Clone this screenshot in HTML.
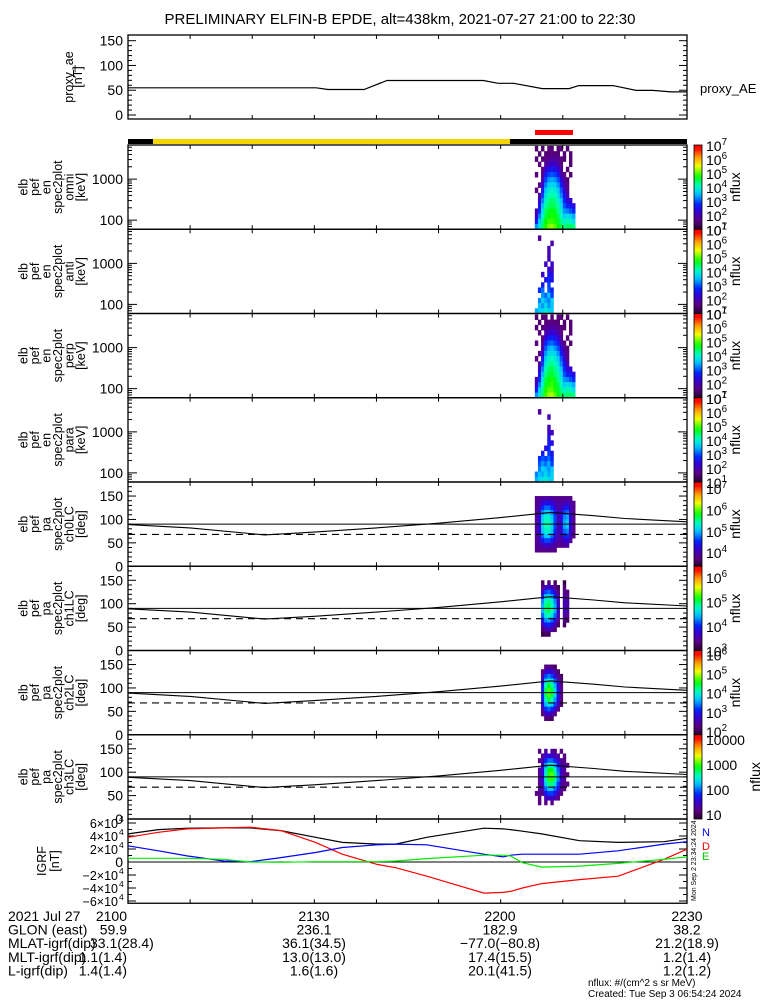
<!DOCTYPE html>
<html><head><meta charset="utf-8"><style>
body{margin:0;background:#fff;}
svg{display:block;font-family:"Liberation Sans",sans-serif;}
</style></head><body>
<svg id="chart" xmlns="http://www.w3.org/2000/svg" width="775" height="1000" viewBox="0 0 775 1000">
<rect x="0" y="0" width="775" height="1000" fill="#fff"/>
<text x="400" y="24" text-anchor="middle" font-size="15">PRELIMINARY ELFIN-B EPDE, alt=438km, 2021-07-27 21:00 to 22:30</text>
<g id="g"></g>
</svg>
<script>
// ---------- data ----------
const timeTicks = [0,10,20,30,40,50,60,70,80,90];
const timeLabels = ["2100","2130","2200","2230"];
const proxyTime = [0,30.3,32.2,38,41.7,57.2,59.6,62.1,66.7,71,72.6,78.1,81.8,84.5,87.4,90];
const proxyAE = [55,55,51.4,51.4,69.6,69.6,64,64,53.2,53.2,59.3,59.3,49.6,49.6,46.6,46.6];
const specTimeStart = 65.5;
const specTimeStep = 0.5;
const energyEdges = [6440,4808,3590,2680,2001,1494,1116,833,622,464,347,259,193,144,107.7,80.4,60];
const paEdges = [150,140,130,120,110,100,90,80,70,60,50,40,30];
const fluxOmni = [
[1.5,0,1.5,0,1.6,1.5,0,1.5,1.6,0,1.5,0,0],
[0,1.5,0,1.5,1.5,1.6,1.5,1.5,0,1.5,0,1.5,0],
[1.5,0,1.5,1.6,1.8,1.8,1.8,1.7,1.6,1.5,0,1.5,0],
[0,1.6,0,1.8,2.0,2.2,2.2,1.9,1.6,0,0,1.5,0],
[0,0,1.6,2.2,2.5,2.6,2.5,2.3,1.8,0,1.5,0,0],
[1.6,0,1.8,2.6,2.9,3.0,2.9,2.6,2.0,1.6,0,1.5,0],
[0,0,2.0,2.9,3.3,3.4,3.3,3.0,2.4,1.8,1.5,0,0],
[0,1.6,2.3,3.2,3.6,3.7,3.6,3.3,2.7,2.0,1.6,0,0],
[1.6,0,2.6,3.5,3.9,4.0,3.9,3.6,3.0,2.3,1.7,0,0],
[0,1.8,2.9,3.8,4.1,4.2,4.1,3.8,3.2,2.6,2.0,0,0],
[0,2.2,3.2,4.0,4.3,4.4,4.3,4.0,3.5,2.8,2.3,2.2,0],
[0,2.5,3.5,4.2,4.4,4.5,4.4,4.2,3.7,3.0,2.7,2.6,2.4],
[2.0,2.8,3.8,4.4,4.6,4.7,4.6,4.3,3.9,3.3,3.2,3.0,2.8],
[2.2,3.2,4.0,4.5,4.7,4.8,4.7,4.5,4.1,3.6,3.8,3.6,3.4],
[2.6,3.6,4.3,4.7,4.9,4.9,4.8,4.6,4.3,4.0,4.2,4.0,3.8],
[3.3,3.8,4.4,4.8,5.1,5.2,5.0,4.7,4.5,4.3,4.4,4.4,4.3]];
const fluxAnti = [
[0,0,0,0,0,0,0,0,0,0,0,0,0],
[0,1.8,0,0,0,0,0,0,0,0,0,0,0],
[0,0,0,0,0,1.9,0,0,0,0,0,0,0],
[0,0,0,0,2.0,0,0,0,0,0,0,0,0],
[0,0,0,0,2.0,0,0,0,0,0,0,0,0],
[0,0,0,0,2.0,0,0,0,0,0,0,0,0],
[0,0,0,2.1,0,2.2,0,0,0,0,0,0,0],
[0,0,0,0,2.3,2.0,0,0,0,0,0,0,0],
[0,0,2.2,0,2.6,2.4,0,0,0,0,0,0,0],
[0,0,0,2.5,2.8,2.5,0,0,0,0,0,0,0],
[0,0,2.6,0,2.9,0,0,0,0,0,0,0,0],
[0,2.8,3.1,0,3.0,2.7,0,0,0,0,0,0,0],
[0,0,3.3,3.1,3.5,2.9,0,0,0,0,0,0,0],
[0,3.2,3.6,3.4,3.2,3.6,0,0,0,0,0,0,0],
[0,3.5,3.3,3.7,3.3,3.5,0,0,0,0,0,0,0],
[3.4,3.6,3.7,3.9,3.7,3.6,0,0,0,0,0,0,0]];
const fluxPerp = [
[1.5,0,1.5,1.5,0,1.5,0,1.5,1.6,0,1.5,0,0],
[0,1.5,0,1.5,1.6,1.6,1.5,1.5,0,1.5,0,1.5,0],
[1.5,0,1.5,1.7,1.8,1.9,1.8,1.7,1.6,1.5,0,1.5,0],
[0,1.6,0,1.9,2.1,2.3,2.2,1.9,1.6,0,0,1.5,0],
[0,0,1.6,2.3,2.6,2.7,2.5,2.3,1.8,0,1.5,0,0],
[1.6,0,1.8,2.7,3.0,3.1,2.9,2.6,2.0,1.6,0,1.5,0],
[0,0,2.0,3.0,3.4,3.5,3.3,3.0,2.4,1.8,1.5,0,0],
[0,1.6,2.3,3.3,3.7,3.8,3.6,3.3,2.7,2.0,1.6,0,0],
[1.6,0,2.6,3.6,4.0,4.1,3.9,3.6,3.0,2.3,1.7,0,0],
[0,1.8,2.9,3.9,4.2,4.3,4.1,3.8,3.2,2.6,2.0,0,0],
[0,2.2,3.2,4.1,4.4,4.5,4.3,4.0,3.5,2.8,2.3,2.2,0],
[0,2.5,3.5,4.3,4.5,4.6,4.4,4.2,3.7,3.0,2.7,2.6,2.4],
[2.0,2.8,3.8,4.5,4.7,4.8,4.6,4.3,3.9,3.3,3.2,3.0,2.8],
[2.2,3.2,4.0,4.6,4.8,4.9,4.7,4.5,4.1,3.6,3.8,3.6,3.4],
[2.6,3.6,4.3,4.8,5.0,5.0,4.8,4.6,4.3,4.0,4.2,4.0,3.8],
[3.3,3.8,4.4,4.9,5.2,5.3,5.0,4.7,4.5,4.3,4.4,4.4,4.3]];
const fluxPara = [
[0,0,0,0,0,0,0,0,0,0,0,0,0],
[0,0,0,0,0,0,0,0,0,0,0,0,0],
[0,1.8,0,0,0,0,0,0,0,0,0,0,0],
[0,0,0,0,2.0,0,0,0,0,0,0,0,0],
[0,0,0,0,0,0,0,0,0,0,0,0,0],
[0,0,0,0,2.0,0,0,0,0,0,0,0,0],
[0,0,0,0,2.2,2.1,0,0,0,0,0,0,0],
[0,0,0,0,2.5,0,0,0,0,0,0,0,0],
[0,0,0,0,2.6,2.4,0,0,0,0,0,0,0],
[0,0,0,2.4,2.8,0,0,0,0,0,0,0,0],
[0,0,2.6,0,2.9,2.5,0,0,0,0,0,0,0],
[0,2.8,3.0,2.9,3.1,2.7,0,0,0,0,0,0,0],
[0,3.0,3.3,3.1,3.4,2.9,0,0,0,0,0,0,0],
[0,3.2,3.6,3.5,3.3,3.5,0,0,0,0,0,0,0],
[3.2,3.5,3.4,3.7,3.4,3.6,0,0,0,0,0,0,0],
[3.4,3.7,3.8,3.9,3.7,3.6,0,0,0,0,0,0,0]];
const fluxCh0 = [
[3.8,3.8,3.9,3.9,3.9,3.9,3.8,3.8,3.8,3.8,3.8,3.8,0],
[3.8,3.9,4.2,4.3,4.3,4.2,4.0,3.9,3.9,4.0,4.1,3.9,3.8],
[3.8,4.0,4.5,4.7,4.7,4.5,4.2,3.9,4.0,4.3,4.4,4.0,3.8],
[3.8,4.1,4.8,5.0,5.0,4.8,4.4,4.0,4.1,4.6,4.7,4.1,3.8],
[3.9,4.2,5.0,5.3,5.3,5.0,4.6,4.0,4.2,4.8,4.9,4.2,3.8],
[3.9,4.2,5.1,5.4,5.4,5.1,4.6,4.0,4.2,4.9,5.0,4.2,3.8],
[3.9,4.2,5.1,5.4,5.4,5.1,4.6,4.0,4.2,4.9,5.0,4.2,3.8],
[3.9,4.2,5.0,5.3,5.3,5.0,4.5,4.0,4.1,4.7,4.8,4.1,3.8],
[3.8,4.1,4.7,5.0,5.0,4.7,4.3,3.9,4.0,4.4,4.5,4.0,3.8],
[3.8,4.0,4.4,4.6,4.6,4.4,4.1,3.9,3.9,4.1,4.2,3.9,0],
[3.8,3.9,4.0,4.1,4.1,4.0,3.9,3.8,3.8,3.9,3.9,0,0],
[3.8,3.8,3.8,3.8,3.8,3.8,3.8,0,0,0,0,0,0]];
const fluxCh1 = [
[0,0,3.2,0,3.3,0,3.2,0,0,3.1,0,0,0],
[0,0,3.4,3.6,3.7,3.6,3.4,3.2,0,3.3,0,0,0],
[0,0,3.7,4.1,4.2,4.0,3.7,3.3,0,3.4,3.3,0,0],
[0,0,4.0,4.5,4.6,4.4,4.0,3.5,0,3.5,3.4,0,0],
[0,0,4.3,4.8,4.9,4.7,4.3,3.6,0,3.6,3.5,0,0],
[0,0,4.4,4.9,5.0,4.8,4.4,3.7,0,3.6,3.5,0,0],
[0,0,4.4,4.9,5.0,4.8,4.4,3.7,0,3.6,3.5,0,0],
[0,0,4.2,4.7,4.8,4.6,4.2,3.6,0,3.5,3.4,0,0],
[0,0,3.9,4.3,4.4,4.2,3.9,3.4,0,3.4,3.2,0,0],
[0,0,3.6,3.9,4.0,3.8,3.6,3.2,0,3.2,0,0,0],
[0,0,3.3,3.5,3.6,3.5,3.3,0,0,0,0,0,0],
[0,0,3.1,3.2,3.2,0,0,0,0,0,0,0,0]];
const fluxCh2 = [
[0,0,0,2.2,2.3,2.2,2.1,0,0,0,0,0,0],
[0,0,2.2,2.6,2.8,2.7,2.4,2.1,0,0,0,0,0],
[0,0,2.5,3.2,3.4,3.2,2.8,2.3,2.1,0,0,0,0],
[0,0,2.8,3.7,4.0,3.8,3.3,2.6,2.2,0,0,0,0],
[0,0,3.0,4.1,4.5,4.2,3.6,2.8,2.3,0,0,0,0],
[0,0,3.1,4.3,4.7,4.4,3.8,2.9,2.3,0,0,0,0],
[0,0,3.1,4.3,4.7,4.4,3.8,2.9,2.3,0,0,0,0],
[0,0,3.0,4.0,4.4,4.1,3.5,2.8,2.2,0,0,0,0],
[0,0,2.8,3.6,3.9,3.7,3.2,2.6,2.1,0,0,0,0],
[0,0,2.5,3.1,3.3,3.1,2.7,2.3,0,0,0,0,0],
[0,0,2.2,2.6,2.7,2.5,2.3,0,0,0,0,0,0],
[0,0,0,2.2,2.2,2.1,0,0,0,0,0,0,0]];
const fluxCh3 = [
[0,1.2,0,1.3,0,1.3,1.2,0,1.2,0,0,0,0],
[0,0,1.3,1.5,1.6,1.5,1.4,1.3,0,1.2,0,0,0],
[0,1.2,1.4,1.8,2.0,2.0,1.8,1.5,1.3,1.2,0,0,0],
[0,0,1.5,2.1,2.5,2.5,2.2,1.8,1.4,1.3,1.2,0,0],
[0,1.3,1.6,2.4,2.9,2.9,2.5,2.0,1.5,1.3,0,0,0],
[0,1.2,1.6,2.5,3.0,3.1,2.7,2.1,1.5,1.2,1.2,0,0],
[0,1.3,1.6,2.5,3.0,3.0,2.7,2.1,1.5,1.3,0,0,0],
[0,1.2,1.5,2.3,2.7,2.7,2.4,1.9,1.4,1.2,1.2,0,0],
[0,1.3,1.4,2.0,2.3,2.3,2.0,1.7,1.3,1.2,0,0,0],
[1.2,1.2,1.3,1.7,1.9,1.9,1.7,1.4,1.2,0,0,0,0],
[0,1.2,0,1.4,1.5,1.5,1.4,1.2,0,0,0,0,0],
[0,1.2,0,1.2,0,1.2,0,0,0,0,0,0,0]];
const lcTime = [0,10,22,30,40,50,60,68,75,80,90];
const lcCurve = [89,82,67,73,82,92,104,115,108,102,95];
const lcSolid = 90;
const lcDashed = 68;
const igrfTime = [0,4.9,9.5,15.4,19.7,24.6,30.2,34.5,40.1,43.1,48.1,57.3,60.4,61.6,63.5,66.6,72.7,78.9,86.3,90];
const igrfBlack = [43160,49920,52000,52520,52520,48360,37960,30160,27560,27560,37960,52000,50960,49920,47320,43160,32760,30160,31200,36400];
const igrfRed = [37960,45760,50960,52520,53560,48360,30160,11960,-3640,-8840,-21840,-47840,-46800,-45240,-40040,-33280,-27040,-21840,4160,19760];
const igrfBlue = [24960,17160,9360,1560,520,6760,14560,22360,26520,27560,26520,11960,7800,10400,11960,11960,11960,17160,27560,31200];
const igrfGreen = [5720,5720,5720,4160,0,-520,520,520,520,1560,5200,10400,10400,9360,-1040,-7800,-6240,-2080,4160,7800];

// ---------- layout ----------
const NS = "http://www.w3.org/2000/svg";
const G = document.getElementById('g');
const X0 = 128, X1 = 687;
const xS = t => X0 + t * (X1 - X0) / 90;
function mk(tag, a, parent) { const e = document.createElementNS(NS, tag); for (const k in a) e.setAttribute(k, a[k]); (parent || G).appendChild(e); return e; }
const cmapStops = [[0,[40,0,50]],[0.1,[90,0,130]],[0.22,[50,0,220]],[0.3,[0,40,255]],[0.42,[0,200,255]],[0.52,[0,255,190]],[0.62,[0,255,0]],[0.75,[240,255,0]],[0.86,[255,150,0]],[0.96,[255,0,0]],[1,[255,0,0]]];
function cmap(f) { f = Math.max(0, Math.min(1, f)); for (let i = 1; i < cmapStops.length; i++) { if (f <= cmapStops[i][0]) { const a = cmapStops[i-1], b = cmapStops[i]; const u = (f - a[0]) / (b[0] - a[0]); const c = a[1].map((v, j) => Math.round(v + (b[1][j] - v) * u)); return `rgb(${c[0]},${c[1]},${c[2]})`; } } return 'rgb(255,0,0)'; }

function frame(top, bot, name) {
  const r = mk('rect', {x: X0, y: top, width: X1 - X0, height: bot - top, fill: 'none', stroke: '#000', 'stroke-width': 1.3});
  
  
  timeTicks.forEach(t => {
    const x = xS(t);
    const a = mk('line', {x1: x, x2: x, y1: bot, y2: bot - 4, stroke: '#000'});
    
    
    const b = mk('line', {x1: x, x2: x, y1: top, y2: top + 4, stroke: '#000'});
    
    
  });
}
function ytick(y, len, name) {
  const a = mk('line', {x1: X0, x2: X0 + len, y1: y, y2: y, stroke: '#000'});
  
  
  const b = mk('line', {x1: X1, x2: X1 - len, y1: y, y2: y, stroke: '#000'});
  
  
}
function ylabel(y, txt, name) {
  const t = mk('text', {x: 123, y: y + 5, 'text-anchor': 'end', 'font-size': 14});
  t.textContent = txt;
  
  
}
function sideTitle(lines, cy, name, lastX, step) {
  const g = mk('g', {});
  
  
  const x0 = lastX - (lines.length - 1) * step;
  lines.forEach((s, i) => {
    const x = x0 + i * step;
    const t = mk('text', {x: x, y: cy, 'text-anchor': 'middle', 'font-size': 12.5, transform: `rotate(-90 ${x} ${cy})`}, g);
    t.textContent = s;
  });
}
function supText(x, y, base, exp, name, fs) {
  const t = mk('text', {x: x, y: y, 'font-size': fs || 15});
  
  
  t.appendChild(document.createTextNode(base));
  if (exp !== null) { const s = mk('tspan', {dy: -6, 'font-size': (fs || 15) * 0.7}, t); s.textContent = exp; }
  return t;
}

// ---------- proxy AE ----------
const PT = 35, PB = 119;
const pY = v => 115 - v * (115 - 40.7) / 150;
frame(PT, PB, 'proxy-ae-panel');
for (let v = 0; v <= 150; v += 10) ytick(pY(v), v % 50 === 0 ? 8 : 4, 'proxy-ae-y-tick');
[0,50,100,150].forEach(v => ylabel(pY(v), String(v), 'proxy-ae-y-label'));
{
  const d = proxyTime.map((t, i) => (i ? 'L' : 'M') + xS(t).toFixed(1) + ',' + pY(proxyAE[i]).toFixed(1)).join('');
  const p = mk('path', {d: d, fill: 'none', stroke: '#000', 'stroke-width': 1.2});
  
  
}
sideTitle(['proxy_ae', '[nT]'], 77, 'proxy-ae-y-title', 82, 9);
{
  const t = mk('text', {x: 700, y: 93, 'font-size': 13});
  t.textContent = 'proxy_AE';
  
  
}

// ---------- status bars ----------
{
  const a = mk('rect', {x: X0, y: 139, width: 25, height: 5, fill: '#000'});
  
  
  const b = mk('rect', {x: 153, y: 139, width: 357, height: 5, fill: '#f5d400'});
  
  
  const c = mk('rect', {x: 510, y: 139, width: X1 - 510, height: 5, fill: '#000'});
  
  
  const d = mk('rect', {x: 535, y: 130, width: 38, height: 5, fill: '#f00'});
  
  
}

// ---------- panels ----------
const panelTops = [145,229.25,313.5,397.75,482,566.25,650.5,734.75,819,903.25];
const colorRanges = [[1,7],[1,7],[1,7],[1,7],[3.34,7.28],[3.0,6.45],[1.8,6.2],[0.85,4.2]];
const specPanels = [
  {grid: fluxOmni, kind: 'en', sub: 'omni', name: 'omni'},
  {grid: fluxAnti, kind: 'en', sub: 'anti', name: 'anti'},
  {grid: fluxPerp, kind: 'en', sub: 'perp', name: 'perp'},
  {grid: fluxPara, kind: 'en', sub: 'para', name: 'para'},
  {grid: fluxCh0, kind: 'pa', sub: 'ch0LC', name: 'ch0lc'},
  {grid: fluxCh1, kind: 'pa', sub: 'ch1LC', name: 'ch1lc'},
  {grid: fluxCh2, kind: 'pa', sub: 'ch2LC', name: 'ch2lc'},
  {grid: fluxCh3, kind: 'pa', sub: 'ch3LC', name: 'ch3lc'}];

specPanels.forEach((P, k) => {
  const top = panelTops[k], bot = panelTops[k + 1];
  const [cm, cM] = colorRanges[k];
  let yS;
  if (P.kind === 'en') {
    const lo = 1.778, hi = 3.832;
    yS = e => bot - (Math.log10(e) - lo) / (hi - lo) * (bot - top);
  } else {
    yS = a => bot - a / 180 * (bot - top);
  }
  const edges = P.kind === 'en' ? energyEdges : paEdges;
  const cg = mk('g', {});
  
  
  P.grid.forEach((row, r) => {
    row.forEach((v, c) => {
      if (!v) return;
      const xa = xS(specTimeStart + c * specTimeStep), xb = xS(specTimeStart + (c + 1) * specTimeStep);
      const ya = yS(edges[r]), yb = yS(edges[r + 1]);
      const cell = mk('rect', {x: xa.toFixed(2), y: ya.toFixed(2), width: (xb - xa + 0.3).toFixed(2), height: (yb - ya + 0.3).toFixed(2), fill: cmap((v - cm) / (cM - cm))}, cg);
      
      
    });
  });
  if (P.kind === 'pa') {
    const d = lcTime.map((t, i) => (i ? 'L' : 'M') + xS(t).toFixed(1) + ',' + yS(lcCurve[i]).toFixed(1)).join('');
    const c = mk('path', {d: d, fill: 'none', stroke: '#000', 'stroke-width': 1.1});
    
    
    const s = mk('line', {x1: X0, x2: X1, y1: yS(lcSolid), y2: yS(lcSolid), stroke: '#000', 'stroke-width': 1.1});
    
    
    const dl = mk('line', {x1: X0, x2: X1, y1: yS(lcDashed), y2: yS(lcDashed), stroke: '#000', 'stroke-width': 1.1, 'stroke-dasharray': '7,5'});
    
    
  }
  frame(top, bot, P.name + '-panel');
  if (P.kind === 'en') {
    [10,100,1000].forEach(dec => { for (let m = 1; m <= 9; m++) { const e = dec * m; if (e < 60 || e > 6440) continue; ytick(yS(e), m === 1 ? 9 : 4, P.name + '-y-tick'); } });
    ylabel(yS(100), '100', P.name + '-y-label');
    ylabel(yS(1000), '1000', P.name + '-y-label');
    sideTitle(['elb', 'pef', 'en', 'spec2plot', P.sub, '[keV]'], (top + bot) / 2, P.name + '-y-title', 85, 11.5);
  } else {
    for (let a = 0; a <= 180; a += 10) ytick(yS(a), a % 50 === 0 ? 8 : 4, P.name + '-y-tick');
    [0,50,100,150].forEach(a => ylabel(yS(a), String(a), P.name + '-y-label'));
    sideTitle(['elb', 'pef', 'pa', 'spec2plot', P.sub, '[deg]'], (top + bot) / 2, P.name + '-y-title', 85, 11.5);
  }
  const gid = 'cb' + k;
  const lg = mk('linearGradient', {id: gid, x1: 0, y1: 1, x2: 0, y2: 0});
  for (let i = 0; i <= 20; i++) mk('stop', {offset: i / 20, 'stop-color': cmap(i / 20)}, lg);
  const cbar = mk('rect', {x: 694, y: top, width: 8, height: bot - top, fill: `url(#${gid})`, stroke: '#000', 'stroke-width': 0.8});
  
  
  const cY = v => bot - (v - cm) / (cM - cm) * (bot - top);
  for (let e = Math.ceil(cm); e <= Math.floor(cM); e++) {
    const y = cY(e);
    if (k === 7) {
      const t = mk('text', {x: 706, y: y + 5, 'font-size': 14});
      t.textContent = String(Math.pow(10, e));
      
      
    } else {
      supText(706, y + 6, '10', String(e), P.name + '-colorbar-label', 14);
    }
  }
  const nx = k === 7 ? 760 : 740;
  const nt = mk('text', {x: nx, y: (top + bot) / 2, 'font-size': 14, 'text-anchor': 'middle', transform: `rotate(-90 ${nx} ${(top + bot) / 2})`});
  nt.textContent = 'nflux';
  
  
});

// ---------- IGRF panel ----------
{
  const top = panelTops[8], bot = panelTops[9];
  const yS = v => 862 - v * 39 / 60000;
  frame(top, bot, 'igrf-panel');
  for (let v = -60000; v <= 60000; v += 10000) ytick(yS(v), v % 20000 === 0 ? 8 : 4, 'igrf-y-tick');
  const z = mk('line', {x1: X0, x2: X1, y1: yS(0), y2: yS(0), stroke: '#000', 'stroke-width': 1.1});
  
  
  [6,4,2,-2,-4,-6].forEach(m => {
    const y = yS(m * 10000);
    const t = mk('text', {x: 118, y: y + 5, 'text-anchor': 'end', 'font-size': 12.5});
    t.textContent = (m < 0 ? '\u2212' : '') + Math.abs(m) + '\u00d710';
    
    
    const s = mk('text', {x: 119, y: y - 1, 'font-size': 8.5});
    s.textContent = '4';
    
    
  });
  ylabel(yS(0), '0', 'igrf-y-label');
  const series = [[igrfBlack, '#000', 'igrf-total'], [igrfRed, '#f00', 'igrf-d'], [igrfBlue, '#00f', 'igrf-n'], [igrfGreen, '#0e0', 'igrf-e']];
  series.forEach(([vals, col, nm]) => {
    const d = igrfTime.map((t, i) => (i ? 'L' : 'M') + xS(t).toFixed(1) + ',' + yS(vals[i]).toFixed(1)).join('');
    const p = mk('path', {d: d, fill: 'none', stroke: col, 'stroke-width': 1.2});
    
    
  });
  sideTitle(['IGRF', '[nT]'], 861, 'igrf-y-title', 59, 13);
  [['N', '#00f', 836], ['D', '#f00', 850], ['E', '#0c0', 860]].forEach(([s, c, y]) => {
    const t = mk('text', {x: 702, y: y, 'font-size': 11, fill: c});
    t.textContent = s;
    
    
  });
  const st = mk('text', {x: 0, y: 0, 'font-size': 7, transform: 'translate(696 901) rotate(-90)'});
  st.textContent = 'Mon Sep  2 23:34:24 2024';
  
  
}

// ---------- bottom annotation ----------
const rowTitles = ['2021 Jul 27', 'GLON (east)', 'MLAT-igrf(dip)', 'MLT-igrf(dip)', 'L-igrf(dip)'];
const rowValues = [
  ['2100', '2130', '2200', '2230'],
  ['59.9', '236.1', '182.9', '38.2'],
  ['33.1(28.4)', '36.1(34.5)', '\u221277.0(\u221280.8)', '21.2(18.9)'],
  ['1.1(1.4)', '13.0(13.0)', '17.4(15.5)', '1.2(1.4)'],
  ['1.4(1.4)', '1.6(1.6)', '20.1(41.5)', '1.2(1.2)']];
const colCenters = [112, 314, 500, 687];
rowTitles.forEach((s, r) => {
  const y = 921 + r * 13.6;
  const t = mk('text', {x: 8, y: y, 'font-size': 14});
  t.textContent = s;
  
  
  rowValues[r].forEach((v, c) => {
    const u = mk('text', {x: c === 0 ? (r === 2 ? 90 : 127) : colCenters[c], y: y, 'font-size': 14, 'text-anchor': c === 0 ? (r === 2 ? 'start' : 'end') : 'middle'});
    u.textContent = v;
    
    
  });
});
{
  const a = mk('text', {x: 588, y: 986, 'font-size': 10});
  a.textContent = 'nflux: #/(cm^2 s sr MeV)';
  
  
  const b = mk('text', {x: 588, y: 997, 'font-size': 10});
  b.textContent = 'Created: Tue Sep  3 06:54:24 2024';
  
  
}
</script>
</body></html>
